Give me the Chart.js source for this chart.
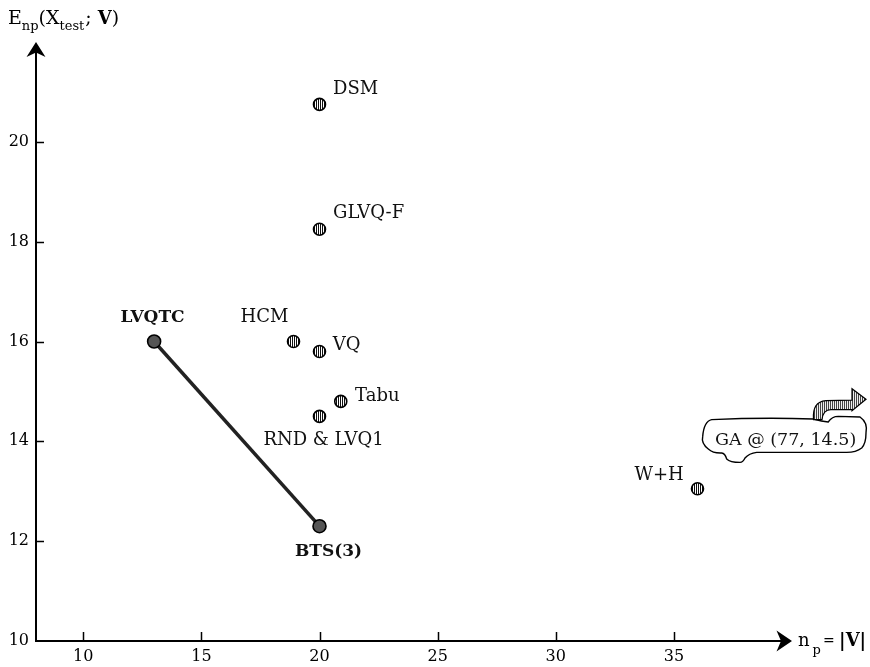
<!DOCTYPE html>
<html>
<head>
<meta charset="utf-8">
<script src="https://cdn.jsdelivr.net/npm/chart.js@4.4.1/dist/chart.umd.min.js"></script>
<style>
  html, body { margin: 0; padding: 0; background: #fff; }
  #wrap { width: 870px; height: 667px; }
</style>
</head>
<body>
<div id="wrap"><canvas id="chart" width="870" height="667"></canvas></div>
<script>
// other methods: prototypes n_p vs error
const methodNames = ['DSM', 'GLVQ-F', 'HCM', 'VQ', 'Tabu', 'RND & LVQ1', 'W+H'];
const methodSizes = [20, 20, 18.9, 20, 20.9, 20, 36];
const methodErrors = [20.75, 18.25, 16.0, 15.8, 14.8, 14.5, 13.05];

// the proposed methods, joined by a line
const oursNames = ['LVQTC', 'BTS(3)'];
const oursSizes = [13, 20];
const oursErrors = [16.0, 12.3];

const xTicks = [10, 15, 20, 25, 30, 35];
const yTicks = [10, 12, 14, 16, 18, 20];
const gaLabel = 'GA @ (77, 14.5)';
const gaError = 14.5;

const SERIF = "'DejaVu Serif', serif";

function stripes(dark, light) {
  const c = document.createElement('canvas');
  c.width = 2; c.height = 1;
  const g = c.getContext('2d');
  g.fillStyle = light; g.fillRect(0, 0, 2, 1);
  g.fillStyle = dark; g.fillRect(0, 0, 1, 1);
  return document.createElement('canvas').getContext('2d').createPattern(c, 'repeat');
}

const dotStripes = stripes('#111', '#fff');
const arrowStripes = stripes('#444', '#eee');

const labelPlacement = {
  'DSM': { dx: 13.5, dy: -10, align: 'left' },
  'GLVQ-F': { dx: 13.5, dy: -11, align: 'left' },
  'HCM': { dx: -5, dy: -20, align: 'right' },
  'VQ': { dx: 13.3, dy: -1.3, align: 'left' },
  'Tabu': { dx: 14.3, dy: 0, align: 'left' },
  'RND & LVQ1': { dx: 4, dy: 29, align: 'center' },
  'W+H': { dx: -13.7, dy: -8.3, align: 'right' },
  'LVQTC': { dx: -1.6, dy: -20, align: 'center', bold: true },
  'BTS(3)': { dx: 9, dy: 30, align: 'center', bold: true }
};

function drawRuns(ctx, x, runs) {
  runs.forEach(r => {
    ctx.font = r.font;
    ctx.fillText(r.t, x, r.y);
    x += ctx.measureText(r.t).width + (r.gap || 0);
  });
}

const axesPlugin = {
  id: 'axes',
  afterDraw(chart) {
    const ctx = chart.ctx;
    const xs = chart.scales.x, ys = chart.scales.y;
    const a = chart.chartArea;
    const x0 = a.left, y0 = a.bottom;
    ctx.save();
    ctx.strokeStyle = '#000';
    ctx.fillStyle = '#000';
    ctx.lineWidth = 2;
    ctx.beginPath();
    ctx.moveTo(x0, y0);
    ctx.lineTo(a.right - 8, y0);
    ctx.moveTo(x0, y0 + 1);
    ctx.lineTo(x0, a.top + 8);
    ctx.stroke();

    // arrow heads
    ctx.beginPath();
    ctx.moveTo(a.right, y0);
    ctx.lineTo(a.right - 15.5, y0 - 10.5);
    ctx.lineTo(a.right - 11, y0);
    ctx.lineTo(a.right - 15.5, y0 + 10.5);
    ctx.closePath();
    ctx.fill();
    ctx.beginPath();
    ctx.moveTo(x0, a.top);
    ctx.lineTo(x0 - 9.5, a.top + 15);
    ctx.lineTo(x0, a.top + 10.5);
    ctx.lineTo(x0 + 9.5, a.top + 15);
    ctx.closePath();
    ctx.fill();

    // ticks
    ctx.lineWidth = 1.5;
    ctx.beginPath();
    xTicks.forEach(v => {
      const px = Math.round(xs.getPixelForValue(v)) + 0.5;
      ctx.moveTo(px, y0);
      ctx.lineTo(px, y0 - 9);
    });
    yTicks.forEach(v => {
      if (v === ys.min) return;
      const py = Math.round(ys.getPixelForValue(v)) + 0.5;
      ctx.moveTo(x0, py);
      ctx.lineTo(x0 + 8, py);
    });
    ctx.stroke();

    // tick labels
    ctx.font = '16px ' + SERIF;
    ctx.textBaseline = 'middle';
    ctx.textAlign = 'center';
    xTicks.forEach(v => ctx.fillText(String(v), xs.getPixelForValue(v), y0 + 16));
    ctx.textAlign = 'right';
    yTicks.forEach(v => ctx.fillText(String(v), x0 - 7, ys.getPixelForValue(v)));

    // axis titles
    ctx.textAlign = 'left';
    ctx.textBaseline = 'alphabetic';
    const big = '19px ' + SERIF, small = '13px ' + SERIF, bold = 'bold 18px ' + SERIF;
    drawRuns(ctx, 8, [
      { t: 'E', font: big, y: 24 },
      { t: 'np', font: small, y: 30 },
      { t: '(X', font: big, y: 24 },
      { t: 'test', font: small, y: 30, gap: 1 },
      { t: '; ', font: big, y: 24 },
      { t: 'V', font: bold, y: 24 },
      { t: ')', font: big, y: 24 }
    ]);
    drawRuns(ctx, a.right + 6, [
      { t: 'n', font: '18px ' + SERIF, y: y0 + 5, gap: 3 },
      { t: 'p', font: small, y: y0 + 13, gap: 2 },
      { t: '= ', font: '14px ' + SERIF, y: y0 + 4 },
      { t: '|V|', font: bold, y: y0 + 5 }
    ]);
    ctx.restore();
  }
};

const labelsPlugin = {
  id: 'pointLabels',
  afterDatasetsDraw(chart) {
    const ctx = chart.ctx;
    ctx.save();
    ctx.fillStyle = '#111';
    ctx.textBaseline = 'alphabetic';
    const groups = [[0, methodNames], [1, oursNames]];
    groups.forEach(([di, names]) => {
      chart.getDatasetMeta(di).data.forEach((el, i) => {
        const p = labelPlacement[names[i]];
        ctx.font = (p.bold ? 'bold 17px ' : '18px ') + SERIF;
        ctx.textAlign = p.align;
        ctx.fillText(names[i], el.x + p.dx, el.y + p.dy);
      });
    });

    // GA callout, off the right end of the axis
    const ax = chart.chartArea.right;
    const ay = chart.scales.y.getPixelForValue(gaError);
    ctx.translate(ax, ay);
    ctx.beginPath();
    ctx.moveTo(-80.3, 3.3);
    ctx.quadraticCurveTo(-30, 1, 21.3, 2.6);
    ctx.quadraticCurveTo(30, 5, 36.3, 5.6);
    ctx.quadraticCurveTo(40, 0, 46.3, 0);
    ctx.lineTo(68, 0.6);
    ctx.quadraticCurveTo(76, 6, 74, 16.6);
    ctx.quadraticCurveTo(74, 27, 69.7, 31.6);
    ctx.quadraticCurveTo(64, 36, 54.7, 36);
    ctx.lineTo(-35.3, 36);
    ctx.quadraticCurveTo(-43, 37, -47, 41.6);
    ctx.quadraticCurveTo(-49, 46, -52, 46);
    ctx.quadraticCurveTo(-62, 46, -65.3, 42.6);
    ctx.quadraticCurveTo(-67, 37, -70.3, 36.6);
    ctx.quadraticCurveTo(-79, 37, -83.7, 32.6);
    ctx.quadraticCurveTo(-91, 27, -89.3, 20);
    ctx.quadraticCurveTo(-88, 5, -80.3, 3.3);
    ctx.closePath();
    ctx.fillStyle = '#fff';
    ctx.fill();
    ctx.lineWidth = 1.4;
    ctx.strokeStyle = '#000';
    ctx.stroke();

    ctx.fillStyle = '#111';
    ctx.font = '17.5px ' + SERIF;
    ctx.textAlign = 'left';
    ctx.fillText(gaLabel, -77, 28.3);

    ctx.beginPath();
    ctx.moveTo(21.5, 3.3);
    ctx.quadraticCurveTo(20, -14.7, 34, -15.7);
    ctx.lineTo(60, -16.2);
    ctx.lineTo(60, -27.7);
    ctx.lineTo(74, -17.2);
    ctx.lineTo(60, -5.7);
    ctx.lineTo(60, -6.7);
    ctx.lineTo(39, -6.7);
    ctx.quadraticCurveTo(31, -6.7, 30, 3.3);
    ctx.closePath();
    ctx.fillStyle = arrowStripes;
    ctx.fill();
    ctx.lineWidth = 1.2;
    ctx.stroke();
    ctx.restore();
  }
};

const ctx = document.getElementById('chart').getContext('2d');
new Chart(ctx, {
  type: 'scatter',
  data: {
    datasets: [
      {
        label: 'other methods',
        data: methodSizes.map((x, i) => ({ x: x, y: methodErrors[i] })),
        pointStyle: 'circle',
        pointRadius: 6,
        backgroundColor: dotStripes,
        borderColor: '#000',
        borderWidth: 1.6
      },
      {
        label: 'LVQTC / BTS',
        data: oursSizes.map((x, i) => ({ x: x, y: oursErrors[i] })),
        showLine: true,
        borderColor: '#222',
        borderWidth: 3.5,
        pointStyle: 'circle',
        pointRadius: 6.5,
        pointBackgroundColor: '#555',
        pointBorderColor: '#000',
        pointBorderWidth: 1.6
      }
    ]
  },
  options: {
    responsive: false,
    animation: false,
    layout: { padding: { left: 36, right: 78, top: 42, bottom: 26 } },
    plugins: { legend: { display: false }, tooltip: { enabled: false } },
    scales: {
      x: { type: 'linear', min: 8, max: 40, display: false },
      y: { type: 'linear', min: 10, max: 22, display: false }
    }
  },
  plugins: [axesPlugin, labelsPlugin]
});
</script>
</body>
</html>
